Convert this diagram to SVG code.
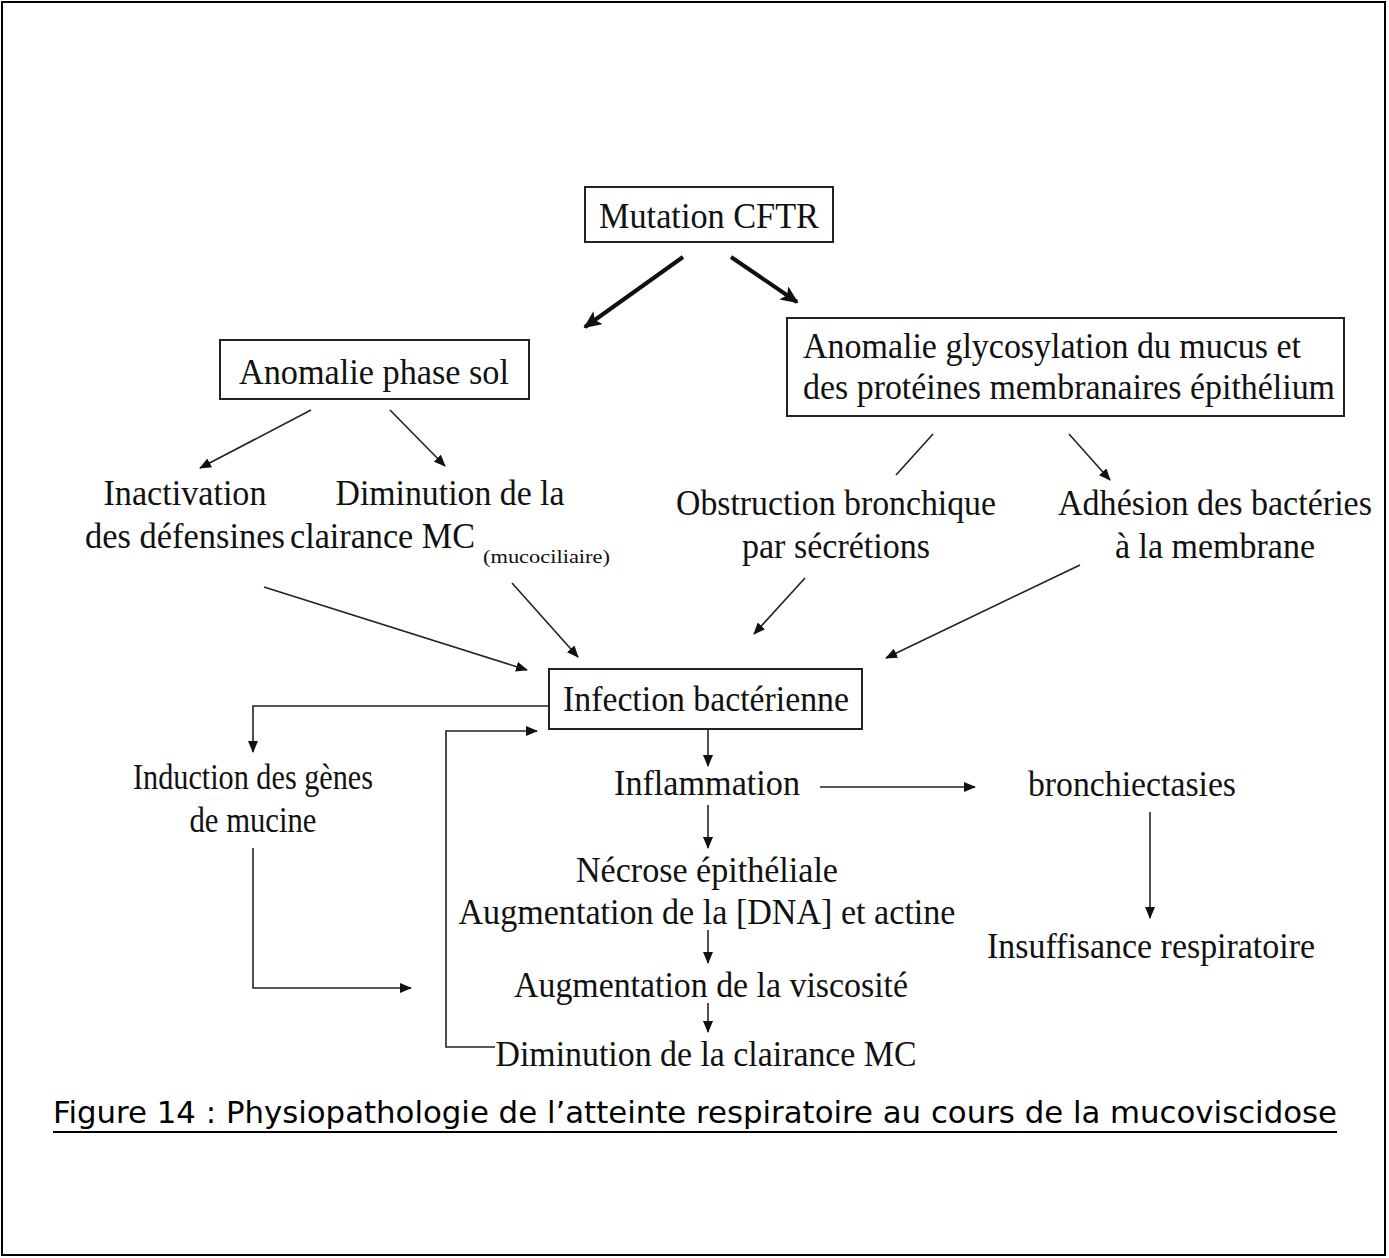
<svg xmlns="http://www.w3.org/2000/svg" width="1389" height="1258" viewBox="0 0 1389 1258">
<style>
.t{font-family:"Liberation Serif","Times New Roman",serif;font-size:35px;fill:#111}
.s{font-family:"Liberation Serif","Times New Roman",serif;font-size:18px;fill:#111}
.box{fill:#fff;stroke:#222;stroke-width:2}
.c{fill:none;stroke:#222;stroke-width:1.6}
.ck{fill:none;stroke:#111;stroke-width:4}
.cap{font-family:"DejaVu Sans","Liberation Sans",sans-serif;font-size:30px;fill:#000}
</style>
<defs>
<marker id="ah" markerUnits="userSpaceOnUse" markerWidth="12" markerHeight="10" refX="11" refY="5" orient="auto">
<path d="M0,0 L12,5 L0,10 z" fill="#111"/>
</marker>
<marker id="ahk" markerUnits="userSpaceOnUse" markerWidth="18" markerHeight="16" refX="16" refY="8" orient="auto">
<path d="M0,0 L18,8 L0,16 L4,8 z" fill="#111"/>
</marker>
</defs>
<rect x="0" y="0" width="1389" height="1258" fill="#fff"/>
<rect x="2" y="2" width="1383" height="1253" fill="none" stroke="#000" stroke-width="2"/>

<g id="connectors">
<line class="ck" x1="683" y1="257" x2="585" y2="327" marker-end="url(#ahk)"/>
<line class="ck" x1="731" y1="257" x2="797" y2="302" marker-end="url(#ahk)"/>
<line class="c" x1="311" y1="410" x2="200" y2="468" marker-end="url(#ah)"/>
<line class="c" x1="390" y1="410" x2="445" y2="466" marker-end="url(#ah)"/>
<line class="c" x1="933" y1="434" x2="896" y2="475"/>
<line class="c" x1="1069" y1="434" x2="1110" y2="480" marker-end="url(#ah)"/>
<line class="c" x1="264" y1="587" x2="527" y2="670" marker-end="url(#ah)"/>
<line class="c" x1="512" y1="583" x2="578" y2="657" marker-end="url(#ah)"/>
<line class="c" x1="805" y1="578" x2="754" y2="634" marker-end="url(#ah)"/>
<line class="c" x1="1080" y1="565" x2="886" y2="658" marker-end="url(#ah)"/>
<polyline class="c" points="549,706 253,706 253,752" marker-end="url(#ah)"/>
<polyline class="c" points="495,1047 446,1047 446,731 537,731" marker-end="url(#ah)"/>
<line class="c" x1="708" y1="729" x2="708" y2="766" marker-end="url(#ah)"/>
<line class="c" x1="820" y1="787" x2="975" y2="787" marker-end="url(#ah)"/>
<line class="c" x1="1150" y1="812" x2="1150" y2="918" marker-end="url(#ah)"/>
<line class="c" x1="708" y1="805" x2="708" y2="848" marker-end="url(#ah)"/>
<line class="c" x1="708" y1="930" x2="708" y2="963" marker-end="url(#ah)"/>
<line class="c" x1="708" y1="1003" x2="708" y2="1032" marker-end="url(#ah)"/>
<polyline class="c" points="253,848 253,988 411,988" marker-end="url(#ah)"/>
</g>

<g id="mutation">
<rect class="box" x="585" y="187" width="248" height="55"/>
<text class="t" x="709" y="228" text-anchor="middle" textLength="220" lengthAdjust="spacingAndGlyphs">Mutation CFTR</text>
</g>
<g id="phase-sol">
<rect class="box" x="220" y="340" width="309" height="59"/>
<text class="t" x="374" y="384" text-anchor="middle" textLength="270" lengthAdjust="spacingAndGlyphs">Anomalie phase sol</text>
</g>
<g id="glycosylation">
<rect class="box" x="787" y="318" width="557" height="98"/>
<text class="t" x="803" y="358" textLength="498" lengthAdjust="spacingAndGlyphs">Anomalie glycosylation du mucus et</text>
<text class="t" x="803" y="399" textLength="532" lengthAdjust="spacingAndGlyphs">des protéines membranaires épithélium</text>
</g>
<g id="inactivation">
<text class="t" x="185" y="505" text-anchor="middle" textLength="163" lengthAdjust="spacingAndGlyphs">Inactivation</text>
<text class="t" x="85" y="548" textLength="200" lengthAdjust="spacingAndGlyphs">des défensines</text>
</g>
<g id="diminution-mc">
<text class="t" x="450" y="505" text-anchor="middle" textLength="229" lengthAdjust="spacingAndGlyphs">Diminution de la</text>
<text class="t" x="290" y="548" textLength="185" lengthAdjust="spacingAndGlyphs">clairance MC</text>
<text class="s" x="483" y="563" textLength="127" lengthAdjust="spacingAndGlyphs">(mucociliaire)</text>
</g>
<g id="obstruction">
<text class="t" x="836" y="515" text-anchor="middle" textLength="320" lengthAdjust="spacingAndGlyphs">Obstruction bronchique</text>
<text class="t" x="836" y="558" text-anchor="middle" textLength="188" lengthAdjust="spacingAndGlyphs">par sécrétions</text>
</g>
<g id="adhesion">
<text class="t" x="1215" y="515" text-anchor="middle" textLength="314" lengthAdjust="spacingAndGlyphs">Adhésion des bactéries</text>
<text class="t" x="1215" y="558" text-anchor="middle" textLength="200" lengthAdjust="spacingAndGlyphs">à la membrane</text>
</g>
<g id="infection">
<rect class="box" x="549" y="669" width="313" height="60"/>
<text class="t" x="706" y="711" text-anchor="middle" textLength="286" lengthAdjust="spacingAndGlyphs">Infection bactérienne</text>
</g>
<g id="induction">
<text class="t" x="253" y="789" text-anchor="middle" textLength="240" lengthAdjust="spacingAndGlyphs">Induction des gènes</text>
<text class="t" x="253" y="832" text-anchor="middle" textLength="127" lengthAdjust="spacingAndGlyphs">de mucine</text>
</g>
<g id="inflammation">
<text class="t" x="707" y="795" text-anchor="middle" textLength="186" lengthAdjust="spacingAndGlyphs">Inflammation</text>
</g>
<g id="bronchiectasies">
<text class="t" x="1132" y="796" text-anchor="middle" textLength="208" lengthAdjust="spacingAndGlyphs">bronchiectasies</text>
</g>
<g id="insuffisance">
<text class="t" x="1151" y="958" text-anchor="middle" textLength="328" lengthAdjust="spacingAndGlyphs">Insuffisance respiratoire</text>
</g>
<g id="necrose">
<text class="t" x="707" y="882" text-anchor="middle" textLength="262" lengthAdjust="spacingAndGlyphs">Nécrose épithéliale</text>
<text class="t" x="707" y="924" text-anchor="middle" textLength="497" lengthAdjust="spacingAndGlyphs">Augmentation de la [DNA] et actine</text>
</g>
<g id="viscosite">
<text class="t" x="711" y="997" text-anchor="middle" textLength="394" lengthAdjust="spacingAndGlyphs">Augmentation de la viscosité</text>
</g>
<g id="diminution-clairance">
<text class="t" x="706" y="1066" text-anchor="middle" textLength="421" lengthAdjust="spacingAndGlyphs">Diminution de la clairance MC</text>
</g>
<g id="caption">
<text class="cap" x="53" y="1123" textLength="1284" lengthAdjust="spacingAndGlyphs">Figure 14 : Physiopathologie de l’atteinte respiratoire au cours de la mucoviscidose</text>
<line x1="53" y1="1132" x2="1337" y2="1132" stroke="#000" stroke-width="2"/>
</g>
</svg>
